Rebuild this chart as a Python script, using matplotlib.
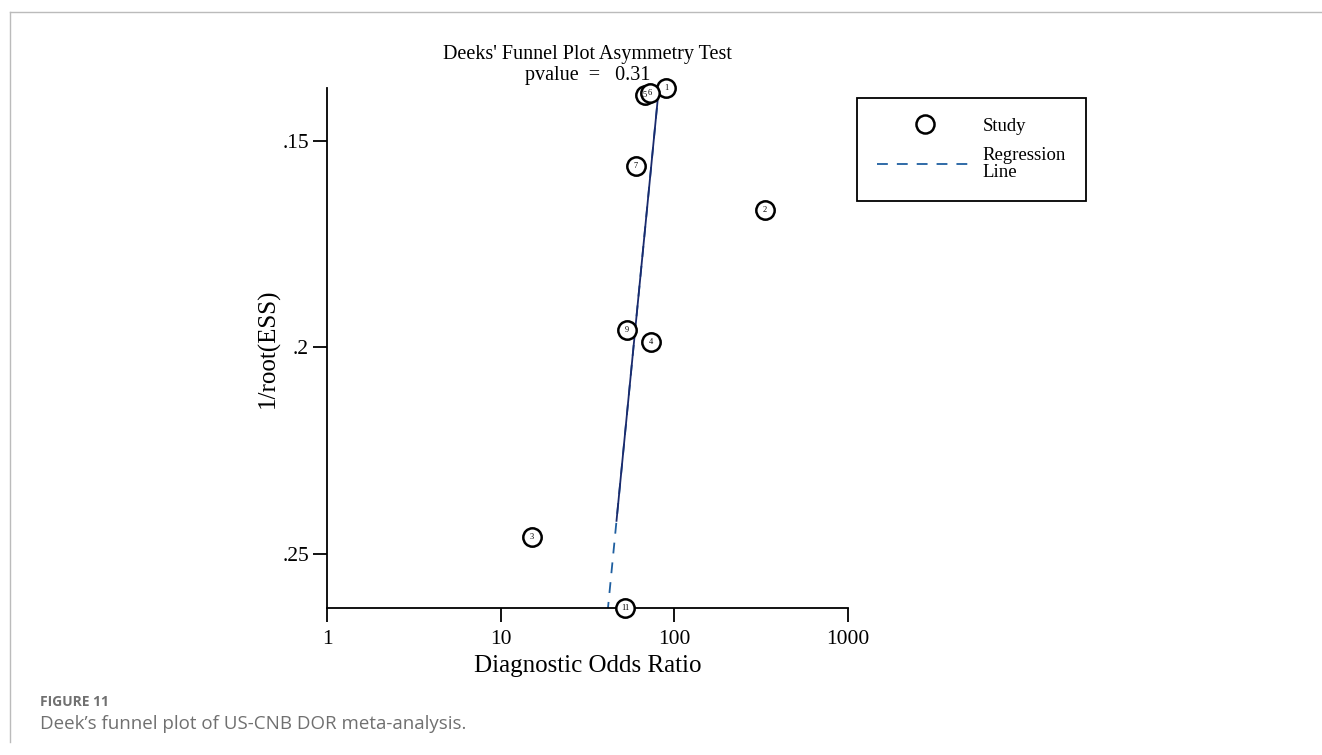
import numpy as np
import matplotlib
matplotlib.use("Agg")
import matplotlib.pyplot as plt
from matplotlib.lines import Line2D

# study data
study_ids = ["1", "2", "3", "4", "5", "6", "7", "9", "11"]
dor = [89.5, 332, 15.1, 73.3, 67.7, 72.4, 60.1, 53.3, 52.0]
inv_root_ess = [0.1372, 0.1667, 0.2459, 0.1987, 0.1389, 0.1384, 0.1561, 0.1958, 0.2631]

# regression: ln(DOR) = intercept + slope * 1/root(ESS)
reg_intercept = 5.135
reg_slope = -5.358
solid_ylim = [0.1372, 0.2420]
pvalue = 0.31

y_ticks = [0.15, 0.20, 0.25]
y_ticklabels = [".15", ".2", ".25"]
x_ticks = [1, 10, 100, 1000]
x_ticklabels = ["1", "10", "100", "1000"]

serif = "Liberation Serif"

fig = plt.figure(figsize=(13.22, 7.55), dpi=100)
ax = fig.add_axes([327 / 1322, 1 - 608 / 755, (848 - 327) / 1322, (608 - 88) / 755])

ys = np.linspace(min(inv_root_ess), max(inv_root_ess), 50)
xs = np.exp(reg_intercept + reg_slope * ys)
ax.plot(xs, ys, color="#1f5fa0", lw=1.3, ls=(0, (6, 5)), zorder=2)
ys2 = np.linspace(solid_ylim[0], solid_ylim[1], 50)
ax.plot(np.exp(reg_intercept + reg_slope * ys2), ys2, color="#1a2a6c", lw=1.3, zorder=3)

ax.scatter(dor, inv_root_ess, s=175, facecolors="white", edgecolors="black",
           linewidths=1.8, zorder=4, clip_on=False)
for sid, x, y in zip(study_ids, dor, inv_root_ess):
    ax.text(x, y, sid, ha="center", va="center", fontsize=6,
            family=serif, zorder=5, clip_on=False)

ax.set_xscale("log")
ax.set_xlim(1, 1000)
ax.set_ylim(max(inv_root_ess), min(inv_root_ess))
ax.set_xticks(x_ticks)
ax.set_xticklabels(x_ticklabels)
ax.set_yticks(y_ticks)
ax.set_yticklabels(y_ticklabels)
ax.minorticks_off()
ax.tick_params(direction="out", length=10, width=1.3, labelsize=15.5)
ax.tick_params(axis="y", pad=3)
ax.tick_params(axis="x", pad=6)
for lab in ax.get_xticklabels() + ax.get_yticklabels():
    lab.set_family(serif)
for side in ["top", "right"]:
    ax.spines[side].set_visible(False)
for side in ["left", "bottom"]:
    ax.spines[side].set_linewidth(1.3)

ax.set_xlabel("Diagnostic Odds Ratio", fontsize=18, family=serif, labelpad=4)
ax.set_ylabel("1/root(ESS)", fontsize=18, family=serif, labelpad=2)
ax.set_title("Deeks' Funnel Plot Asymmetry Test\npvalue  =   %.2f" % pvalue,
             fontsize=14.5, family=serif, linespacing=1.1, pad=6)

handles = [
    Line2D([], [], marker="o", ls="none", markersize=13, markerfacecolor="white",
           markeredgecolor="black", markeredgewidth=1.8),
    Line2D([], [], color="#1f5fa0", lw=1.3, ls=(0, (6, 5))),
]
leg = fig.legend(handles, ["Study", "Regression\nLine"], loc="upper left",
                 bbox_to_anchor=(857 / 1322, 1 - 98 / 755), fancybox=False,
                 edgecolor="black", framealpha=1, handlelength=5.2,
                 borderpad=1.05, borderaxespad=0, labelspacing=0.65, handletextpad=0.45,
                 prop={"family": serif, "size": 13.5})
leg.get_frame().set_linewidth(1.3)
for t in leg.get_texts():
    t.set_linespacing(1.02)

# page frame and caption
fig.add_artist(Line2D([10 / 1322, 1], [1 - 12 / 755, 1 - 12 / 755], color="#bbbbbb", lw=1))
fig.add_artist(Line2D([10 / 1322, 10 / 1322], [1 - 12 / 755, 1 - 742 / 755], color="#bbbbbb", lw=1))
fig.text(40 / 1322, 1 - 702 / 755, "FIGURE 11", fontsize=10, color="#707070",
         family="Open Sans", fontweight="bold", va="center")
fig.text(40 / 1322, 1 - 724 / 755, "Deek\u2019s funnel plot of US-CNB DOR meta-analysis.",
         fontsize=13.5, color="#707070", family="Open Sans", va="center")

fig.savefig("out.png", dpi=100)
